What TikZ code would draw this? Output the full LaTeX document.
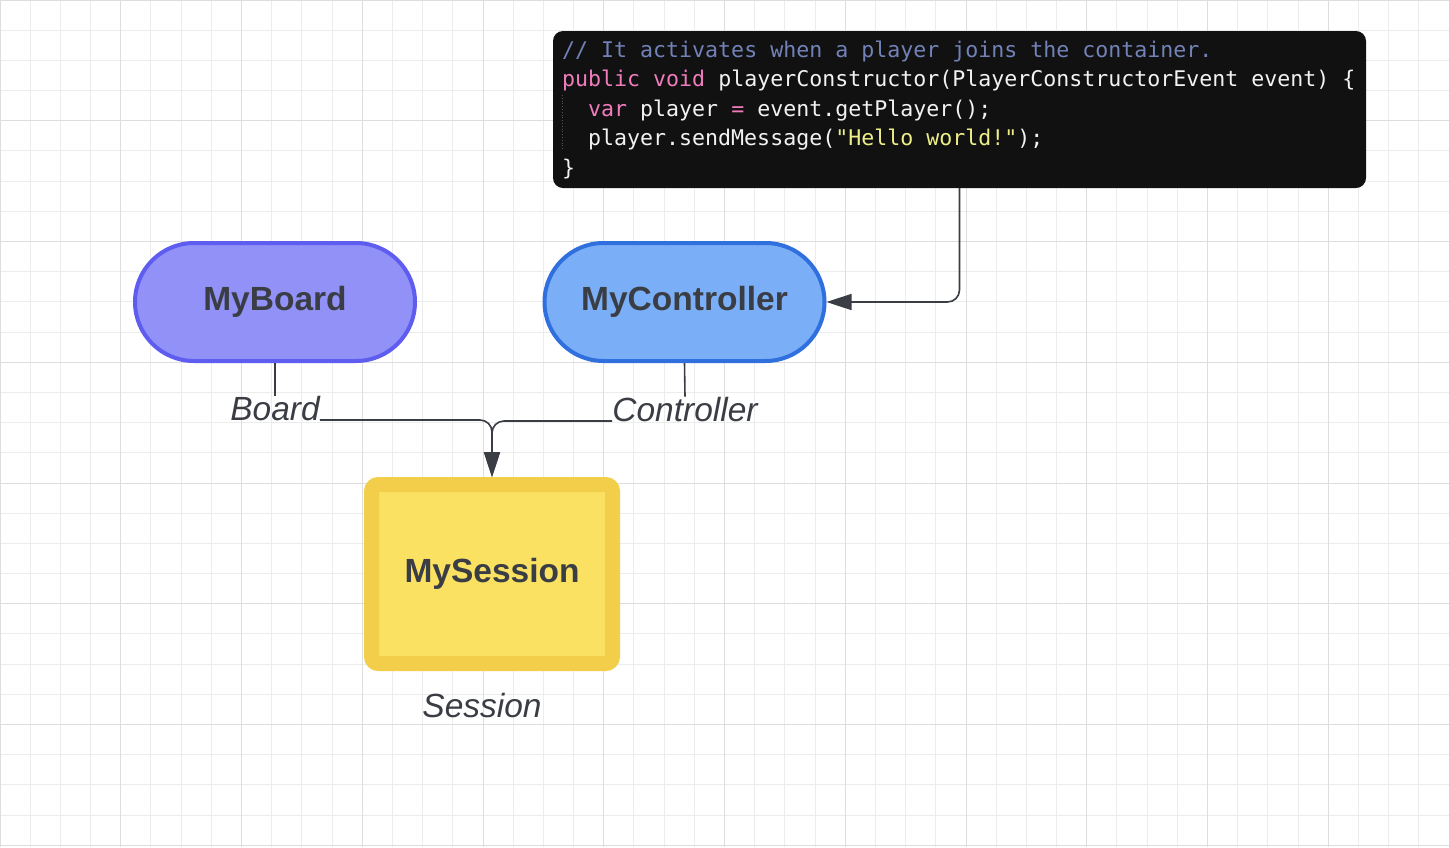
\documentclass[tikz,border=0pt]{standalone}
\usepackage{fontspec}
\setmainfont{Liberation Sans}
\setmonofont{DejaVu Sans Mono}
\usetikzlibrary{arrows.meta, positioning}

\definecolor{gridminor}{HTML}{ECECEC}
\definecolor{gridmajor}{HTML}{DDDDDD}
\definecolor{ink}{HTML}{3A3D44}
\definecolor{codebg}{HTML}{111111}
\definecolor{cmt}{HTML}{7282B8}
\definecolor{kw}{HTML}{F07CBE}
\definecolor{str}{HTML}{EEEE88}
\definecolor{plain}{HTML}{F2F2F2}
\definecolor{guide}{HTML}{555555}
\definecolor{boardfill}{HTML}{9191F7}
\definecolor{boardline}{HTML}{5F5CF0}
\definecolor{ctrlfill}{HTML}{7AAEF6}
\definecolor{ctrlline}{HTML}{3070DE}
\definecolor{sessfill}{HTML}{FAE162}
\definecolor{sessline}{HTML}{F2CE4A}

\begin{document}
\begin{tikzpicture}[x=1pt, y=-1pt]
    \tikzstyle{minor}=[gridminor, line width=1pt]
    \tikzstyle{major}=[gridmajor, line width=1pt]
    \tikzstyle{pill}=[rectangle, rounded corners=59pt, line width=4pt, minimum width=280pt, minimum height=118pt, text=ink, font=\fontsize{33.5}{40}\selectfont\bfseries]
    \tikzstyle{tag}=[inner sep=0pt, text=ink, font=\fontsize{33.5}{40}\selectfont\itshape]
    \tikzstyle{codeline}=[inner sep=0pt, anchor=base west, text=plain, font=\fontsize{21.6}{25}\selectfont\ttfamily]
    \tikzstyle{conn}=[ink, line width=1.6pt, rounded corners=12pt]
    \tikzstyle{tip}=[-{Triangle[length=25pt, width=16pt]}]
    \useasboundingbox (0,0) rectangle (1449,847);
    \fill[white] (0,0) rectangle (1449,847);
    % grid
    \foreach \i in {0,...,48} \draw[minor] (\i*30.1875,0) -- (\i*30.1875,847);
    \foreach \j in {0,...,28} \draw[minor] (0,\j*30.1875) -- (1449,\j*30.1875);
    \foreach \i in {0,...,12} \draw[major] (\i*120.75,0) -- (\i*120.75,847);
    \foreach \j in {0,...,7} \draw[major] (0,\j*120.75) -- (1449,\j*120.75);
    % code box
    \node[fill=codebg, rounded corners=10pt, minimum width=813pt, minimum height=157pt, inner sep=0pt] (code) at (959.5,109.5) {};
    \draw[guide, line width=0.8pt, dotted] (562,95) -- (562,150);
    \node[codeline, text=cmt] (c1) at (562,57) {// It activates when a player joins the container.};
    \node[codeline] (c2) at (562,86.5) {\textcolor{kw}{public void} playerConstructor(PlayerConstructorEvent event) \{};
    \node[codeline] (c3) at (588,116) {\textcolor{kw}{var} player \textcolor{kw}{=} event.getPlayer();};
    \node[codeline] (c4) at (588,145.5) {player.sendMessage(\textcolor{str}{"Hello world!"});};
    \node[codeline] (c5) at (562,175) {\}};
    % classes
    \node[pill, fill=boardfill, draw=boardline] (board) at (275,302) {MyBoard};
    \node[pill, fill=ctrlfill, draw=ctrlline] (ctrl) at (684.5,302) {MyController};
    \node[rectangle, rounded corners=7pt, line width=15pt, fill=sessfill, draw=sessline, minimum width=241pt, minimum height=179pt, text=ink, font=\fontsize{33.5}{40}\selectfont\bfseries] (session) at (492,574) {MySession};
    % labels
    \node[tag, anchor=base] (boardlbl) at (275,420) {Board};
    \node[tag, anchor=base] (ctrllbl) at (685,421) {Controller};
    \node[tag, anchor=base] (sesslbl) at (482,717) {Session};
    % connectors
    \draw[conn] (board.south) -- (boardlbl.north);
    \draw[conn] (ctrl.south) -- (ctrllbl.north);
    \draw[conn, tip] (boardlbl.base east) -| (session.north);
    \draw[conn, tip] (ctrllbl.base west) -| (session.north);
    \draw[conn, tip] (code.south) |- (ctrl.east);
\end{tikzpicture}
\end{document}
